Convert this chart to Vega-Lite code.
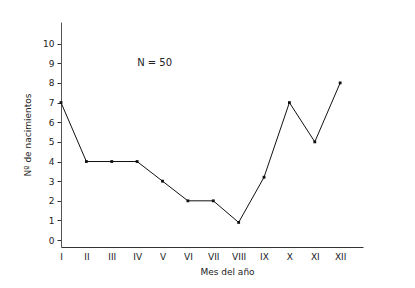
{
  "$schema": "https://vega.github.io/schema/vega-lite/v6.json",
  "autosize": "none",
  "width": 302,
  "height": 225,
  "padding": {"left": 61, "top": 22, "right": 52, "bottom": 41},
  "background": "white",
  "config": {
    "view": {"stroke": null},
    "font": "DejaVu Sans",
    "axis": {"labelFont": "DejaVu Sans", "titleFont": "DejaVu Sans", "labelColor": "#222", "titleColor": "#222", "titleFontWeight": "normal", "grid": false}
  },
  "datasets": {
    "births": [
      {"mes": "I", "nacimientos": 7},
      {"mes": "II", "nacimientos": 4},
      {"mes": "III", "nacimientos": 4},
      {"mes": "IV", "nacimientos": 4},
      {"mes": "V", "nacimientos": 3},
      {"mes": "VI", "nacimientos": 2},
      {"mes": "VII", "nacimientos": 2},
      {"mes": "VIII", "nacimientos": 0.9},
      {"mes": "IX", "nacimientos": 3.2},
      {"mes": "X", "nacimientos": 7},
      {"mes": "XI", "nacimientos": 5},
      {"mes": "XII", "nacimientos": 8}
    ],
    "note": [{"mes": "IV", "nacimientos": 9, "texto": "N = 50"}]
  },
  "encoding": {
    "x": {
      "field": "mes", "type": "ordinal", "sort": null,
      "scale": {"type": "point", "padding": 0.45, "align": 0},
      "axis": {"title": "Mes del año", "labelAngle": 0, "ticks": false, "labelPadding": 5, "labelFontSize": 9, "titleFontSize": 9, "titlePadding": 6, "domainColor": "#333", "titleX": 166, "labelOverlap": false}
    },
    "y": {
      "field": "nacimientos", "type": "quantitative",
      "scale": {"domain": [-0.35, 11.1], "nice": false, "zero": false},
      "axis": {"title": "Nº de nacimientos", "values": [0,1,2,3,4,5,6,7,8,9,10], "tickCount": 11, "format": "d", "tickSize": 4, "labelPadding": 3, "labelFontSize": 9, "titleFontSize": 9, "titlePadding": 10, "domainColor": "#555", "tickColor": "#333", "labelOverlap": false, "labelBound": false, "labelFlush": false}
    }
  },
  "layer": [
    {
      "data": {"name": "births"},
      "mark": {"type": "line", "color": "#111", "strokeWidth": 1}
    },
    {
      "data": {"name": "births"},
      "mark": {"type": "point", "filled": true, "shape": "square", "size": 8, "color": "#111", "opacity": 1}
    },
    {
      "data": {"name": "note"},
      "mark": {"type": "text", "align": "left", "fontSize": 10, "color": "#222"},
      "encoding": {"text": {"field": "texto"}}
    }
  ]
}
